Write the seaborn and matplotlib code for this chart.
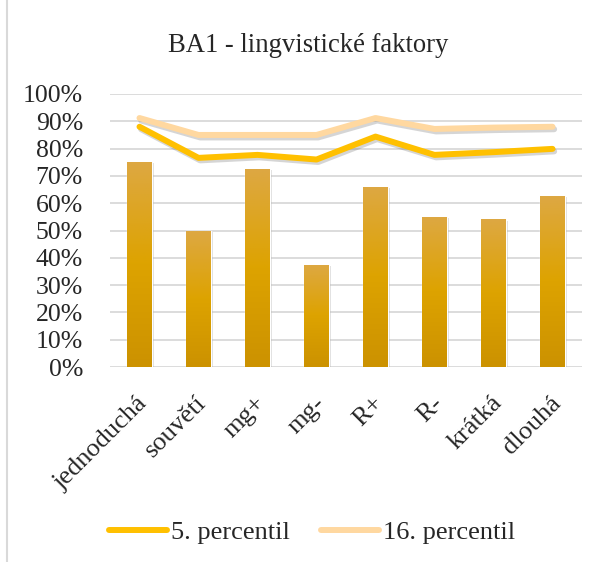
import matplotlib
matplotlib.use("Agg")
import matplotlib.pyplot as plt
import matplotlib.patheffects as pe
import matplotlib.transforms as mtransforms
from matplotlib.colors import LinearSegmentedColormap
import numpy as np
import pandas as pd
import seaborn as sns

categories = ["jednoduchá", "souvětí", "mg+", "mg-", "R+", "R-", "krátká", "dlouhá"]
bar_values = [0.752, 0.498, 0.725, 0.374, 0.661, 0.551, 0.541, 0.626]
p5_values = [0.880, 0.766, 0.777, 0.760, 0.844, 0.777, 0.787, 0.799]
p16_values = [0.912, 0.850, 0.850, 0.850, 0.912, 0.872, 0.877, 0.880]
yticks = [0, 0.1, 0.2, 0.3, 0.4, 0.5, 0.6, 0.7, 0.8, 0.9, 1.0]
ytick_labels = ["0%", "10%", "20%", "30%", "40%", "50%", "60%", "70%", "80%", "90%", "100%"]
title = "BA1 - lingvistické faktory"
legend_labels = ["5. percentil", "16. percentil"]

sns.set_theme(style="white")
plt.rcParams["font.family"] = ["Liberation Serif", "DejaVu Serif"]

df = pd.DataFrame({"cat": categories, "val": bar_values})

fig = plt.figure(figsize=(5.99, 5.62), dpi=100)
ax = fig.add_axes([110 / 599, 1 - 367 / 562, 472 / 599, 273 / 562])

sns.barplot(data=df, x="cat", y="val", ax=ax, color="#D9A01E", width=0.41,
            saturation=1, zorder=3)
cmap = LinearSegmentedColormap.from_list("g", ["#CC9200", "#DDA300", "#DDA842"])
grad = np.linspace(0, 1, 100).reshape(-1, 1)
for patch in list(ax.patches):
    patch.set_path_effects([pe.SimplePatchShadow(offset=(1.5, -1.0), shadow_rgbFace="#777777", alpha=0.25), pe.Normal()])
    x0, y0 = patch.get_x(), patch.get_y()
    w, h = patch.get_width(), patch.get_height()
    im = ax.imshow(grad, extent=[x0, x0 + w, y0, y0 + h], origin="lower",
                   aspect="auto", cmap=cmap, zorder=3.5)
    im.set_clip_path(patch)

x = np.arange(len(categories))
shadow = [pe.SimpleLineShadow(offset=(1.2, -1.8), shadow_color="#444444", alpha=0.22), pe.Normal()]
sns.lineplot(x=x, y=p5_values, ax=ax, color="#FFC000", linewidth=4.3, zorder=5,
             label=legend_labels[0], solid_capstyle="round", solid_joinstyle="round")
sns.lineplot(x=x, y=p16_values, ax=ax, color="#FFD8A0", linewidth=4.3, zorder=5,
             label=legend_labels[1], solid_capstyle="round", solid_joinstyle="round")
for ln in ax.lines:
    ln.set_path_effects(shadow)

ax.set_xlim(-0.5, len(categories) - 0.5)
ax.set_ylim(0, 1.0)
ax.set_yticks(yticks)
ax.set_yticklabels(ytick_labels, fontsize=18.5)
ax.set_xticks(x)
ax.set_xticklabels(categories, fontsize=19, rotation=45, ha="right", va="top",
                   rotation_mode="anchor")
ax.tick_params(axis="x", pad=18, length=0)
ax.tick_params(axis="y", pad=19.5, length=0)
ax.set_xlabel("")
ax.set_ylabel("")
ax.yaxis.grid(True, color="#D9D9D9", linewidth=1.3, zorder=0)
ax.set_axisbelow(True)
for s in ax.spines.values():
    s.set_visible(False)

shift = mtransforms.ScaledTranslation(-3 / 100, 0, fig.dpi_scale_trans)
for lab in ax.get_xticklabels():
    lab.set_transform(lab.get_transform() + shift)

leg = ax.legend(loc="center", bbox_to_anchor=(312 / 599, 1 - 532 / 562),
                bbox_transform=fig.transFigure, ncol=2, frameon=False,
                fontsize=19, handlelength=2.2, handletextpad=0.15,
                columnspacing=1.2, borderpad=0)
for h in leg.get_lines():
    h.set_path_effects([])
    h.set_linewidth(4.3)

fig.text(308 / 599, 1 - 45 / 562, title, ha="center", va="center", fontsize=19.2)
fig.add_artist(plt.Line2D([7 / 599, 7 / 599], [0, 1], color="#D9D9D9", linewidth=1.5,
                          transform=fig.transFigure))

fig.savefig("out.png", dpi=100)
